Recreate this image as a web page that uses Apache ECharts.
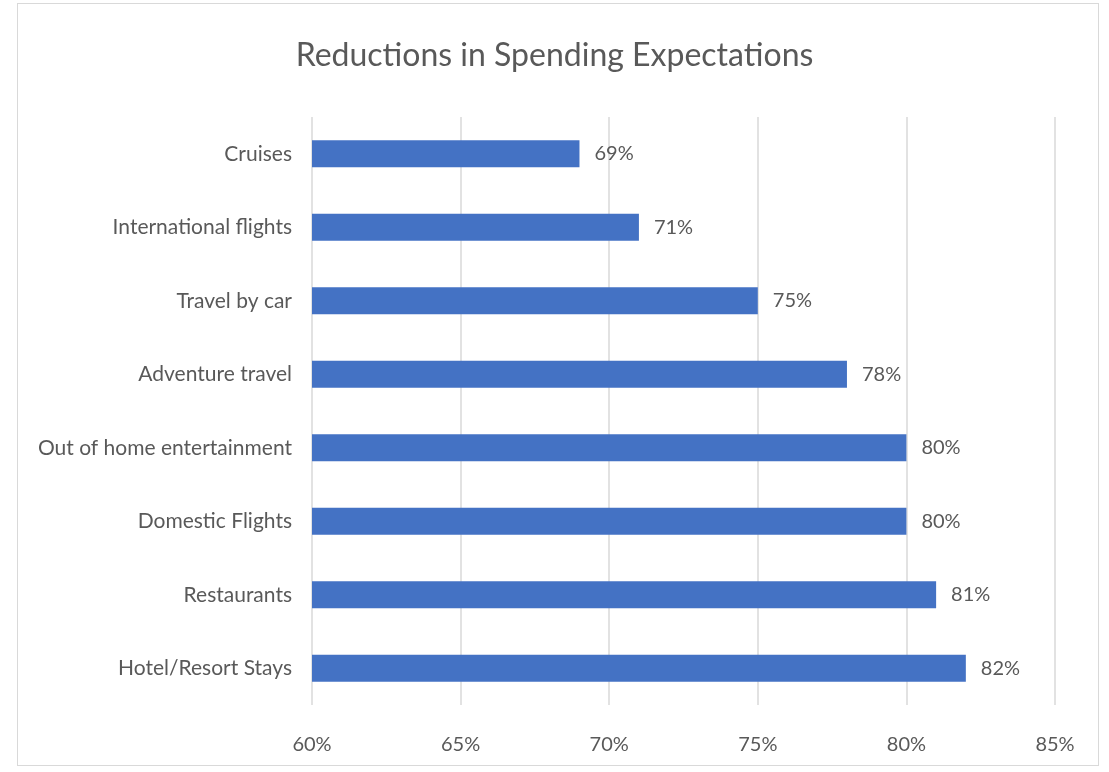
<!DOCTYPE html>
<html><head><meta charset="utf-8">
<script src="https://cdn.jsdelivr.net/npm/echarts@6/dist/echarts.min.js"></script>
<style>html,body{margin:0;padding:0;background:#fff}#box{position:absolute;left:17px;top:3px;width:1082px;height:763px;border:1.5px solid #d9d9d9;box-sizing:border-box}#c{width:1109px;height:772px}</style>
</head><body><div id="box"></div><div id="c"></div>
<script>
const categories = ["Cruises","International flights","Travel by car","Adventure travel","Out of home entertainment","Domestic Flights","Restaurants","Hotel/Resort Stays"];
const values = [69,71,75,78,80,80,81,82];
const tickValues = [60,65,70,75,80,85];
const FONT = 'Lato';
const chart = echarts.init(document.getElementById('c'));
chart.setOption({
  backgroundColor: 'transparent',
  animation: false,
  title: {text: 'Reductions in Spending Expectations', left: 'center', top: 35,
    textStyle: {fontFamily: FONT, fontSize: 32, fontWeight: 'normal', color: '#595959'}},
  grid: {left: 312, right: 54, top: 117, bottom: 67, containLabel: false},
  xAxis: {type: 'value', min: 60, max: 85, interval: 5,
    axisLine: {show: false}, axisTick: {show: false},
    splitLine: {lineStyle: {color: '#d9d9d9', width: 1.5}},
    axisLabel: {formatter: v => v + '%', margin: 30, color: '#595959', fontFamily: FONT, fontSize: 20}},
  yAxis: {type: 'category', data: categories, inverse: true,
    axisLine: {show: false}, axisTick: {show: false},
    axisLabel: {margin: 20, color: '#595959', fontFamily: FONT, fontSize: 21}},
  series: [{type: 'bar', data: values, barWidth: 27,
    itemStyle: {color: '#4472C4'},
    label: {show: true, position: 'right', distance: 15, formatter: p => p.value + '%',
      color: '#595959', fontFamily: FONT, fontSize: 20}}]
});
</script></body></html>
